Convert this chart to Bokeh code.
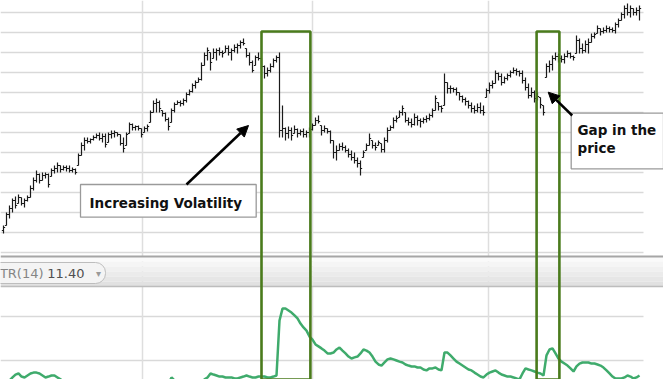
from bokeh.plotting import figure
from bokeh.models import Range1d, BoxAnnotation, Label, Arrow, NormalHead, Span, FixedTicker
from bokeh.embed import file_html
from bokeh.resources import INLINE

# ---- price bars (one per session) ----
high = [53.5, 60, 63.5, 67, 68, 69, 67.5, 67, 68.5, 73.5,
        77.5, 81, 79.5, 80, 80, 79.5, 82, 83.5, 85, 83.5,
        83.5, 83.5, 83.5, 82.5, 82, 89.5, 95, 97.5, 97.5, 97,
        98.5, 99.5, 100, 99.5, 99.5, 100, 101, 101, 100, 99,
        97.5, 100, 105, 104.5, 103.5, 103.5, 102, 103, 104, 111,
        116, 117, 116, 111, 110, 107.5, 112, 115, 116, 116,
        117, 120, 121.5, 124.5, 126, 127.5, 135, 140, 142.5, 140,
        142, 142, 142.5, 141, 143.5, 143.5, 142, 144, 144.5, 146,
        147, 142, 140, 136, 138.5, 140, 137, 133.5, 132.5, 134.5,
        137, 138.5, 140, 113.5, 102.5, 103, 102.5, 103.5, 102, 101.5,
        102, 101, 102.5, 104.5, 107.5, 108.5, 103.5, 103.5, 102, 101,
        96, 93.5, 94.5, 95, 93.5, 92, 91, 90, 87.5, 86,
        91, 94.5, 99.5, 96, 95, 96, 94.5, 97.5, 102.5, 103.5,
        107.5, 108.5, 111, 113.5, 110, 107.5, 107, 109.5, 108.5, 107,
        107.5, 108.5, 109.5, 112, 118.5, 115, 113.5, 129.5, 125, 123.5,
        122.5, 122.5, 120, 118.5, 117.5, 116, 115, 113.5, 114.5, 115,
        113.5, 122, 125, 126, 131, 130, 129.5, 128, 129.5, 131,
        132.5, 132, 131, 131, 127.5, 124.5, 122.5, 121, 120, 117.5,
        113.5, 134.5, 136, 138.5, 140, 139.5, 138.5, 139.5, 141, 140,
        138.5, 148.5, 147, 144.5, 146, 147, 149.5, 150, 153.5, 152,
        152.5, 153.5, 153, 152.5, 155, 157, 160, 163.5, 164.5, 163.5,
        162, 162.5, 163.5]
low = [49.5, 53.5, 57, 60, 62, 64.5, 63.5, 62.5, 65.5, 67.5,
       71, 75, 74.5, 76, 77, 72.5, 78, 79.5, 80, 80,
       81, 80.5, 80, 80, 79, 83.5, 88.5, 91, 94.5, 94.5,
       96, 97, 96, 95, 92.5, 95, 97, 97.5, 98, 93.5,
       90, 93.5, 99.5, 101, 101, 101, 97.5, 100, 100.5, 105,
       110, 110, 110, 108, 105.5, 101, 105, 110, 114, 113,
       113.5, 115, 118.5, 120, 122, 125, 126, 133.5, 136, 131,
       137, 136, 138.5, 137.5, 140, 138.5, 136, 140, 139.5, 142,
       143.5, 137.5, 133.5, 130, 133.5, 136, 132, 127, 128, 130,
       132.5, 135, 97.5, 97.5, 96, 97, 96, 99.5, 97.5, 98.5,
       97.5, 97.5, 97.5, 101, 103.5, 104.5, 98.5, 100, 99.5, 94.5,
       87, 86, 91, 91, 90, 87.5, 86, 84.5, 82.5, 78.5,
       87.5, 91, 93.5, 92, 91, 93.5, 90, 90, 95, 101,
       102, 105, 107.5, 108.5, 105, 103.5, 102.5, 103.5, 103.5, 102.5,
       104.5, 105, 106, 107.5, 111, 111, 110, 113.5, 119.5, 119.5,
       120, 118.5, 116, 115, 113.5, 112, 110, 109.5, 110, 109.5,
       108.5, 117.5, 119.5, 122, 124.5, 126, 123.5, 124.5, 126, 127.5,
       129.5, 128.5, 128, 124.5, 121, 117, 117.5, 115, 116, 112,
       108.5, 127.5, 130, 131, 136, 135, 135, 134.5, 137.5, 137,
       136, 139.5, 139.5, 139.5, 140, 139.5, 145, 147, 149.5, 148.5,
       149.5, 150, 150, 150, 149.5, 152.5, 156, 157, 158.5, 157.5,
       158.5, 158.5, 156]
close = [52.5, 59, 62, 66, 63.5, 67.5, 64.5, 66, 67.5, 72,
         76, 79, 76, 78.5, 79, 74, 81, 82, 83.5, 81.5,
         82.5, 82, 81, 81.5, 80, 88.5, 93.5, 96, 95.5, 96.5,
         97.5, 98.5, 97, 98, 94, 99, 99.5, 100, 99, 94.5,
         92, 99, 104, 102.5, 103, 102, 99, 102, 103, 110,
         114.5, 115, 112, 109.5, 106.5, 103, 111, 114, 115, 114.5,
         116, 119, 120.5, 123.5, 125, 126.5, 133.5, 138.5, 141, 135,
         140, 141, 140, 139.5, 142, 140, 141, 142.5, 143.5, 145,
         144.5, 138.5, 135, 131, 137.5, 137, 133, 129.5, 131, 133,
         136, 137.5, 101, 102, 99.5, 101, 98.5, 101.5, 99.5, 100.5,
         99, 100, 101.5, 103.5, 106, 105.5, 101, 102, 100.5, 96,
         90, 91, 93, 92.5, 91, 89, 87.5, 86, 84.5, 82,
         90, 93.5, 97, 93.5, 92.5, 95, 91.5, 96, 101, 102.5,
         106, 107, 110, 112, 106, 105, 104, 107.5, 106, 105.5,
         106.5, 107, 108.5, 111, 117, 113, 112, 125, 122, 122,
         121.5, 120, 118, 116.5, 115.5, 113.5, 112, 111, 112.5, 111,
         110, 121, 123.5, 124.5, 129.5, 128, 125, 127, 128.5, 130,
         131, 130.5, 129.5, 126, 122.5, 118.5, 120, 117, 118, 114,
         110, 133, 134, 137, 138, 137, 136.5, 138, 139.5, 138,
         137.5, 146, 142, 141, 144, 145, 148, 149, 152, 150.5,
         151, 152, 151.5, 151, 154, 156, 159, 162, 160, 162,
         160, 161, 162]
first_open = 51.0

# ---- ATR(14) ----
atr = [4.86, 4.95, 5.09, 5.23, 5.36, 5.41, 5.27, 5.23, 5.32, 5.41,
       5.45, 5.45, 5.41, 5.32, 5.23, 5.27, 5.32, 5.32, 5.23, 5.14,
       5.05, 5.00, 4.95, 4.91, 4.95, 5.05, 5.09, 5.05, 4.95, 4.91,
       4.86, 4.82, 4.82, 4.86, 4.91, 4.86, 4.82, 4.77, 4.77, 4.82,
       4.86, 4.91, 4.95, 4.91, 4.86, 4.82, 4.82, 4.77, 4.77, 4.86,
       4.91, 4.95, 4.95, 4.91, 4.91, 4.95, 5.23, 5.09, 5.00, 4.95,
       4.91, 4.91, 4.86, 4.86, 4.91, 4.91, 5.00, 5.14, 5.23, 5.41,
       5.36, 5.32, 5.27, 5.27, 5.23, 5.23, 5.23, 5.18, 5.18, 5.23,
       5.27, 5.32, 5.27, 5.23, 5.23, 5.27, 5.27, 5.27, 5.23, 5.23,
       5.27, 5.32, 7.82, 8.36, 8.36, 8.27, 8.18, 8.05, 7.91, 7.68,
       7.50, 7.36, 7.09, 6.95, 6.73, 6.64, 6.55, 6.45, 6.32, 6.32,
       6.36, 6.50, 6.59, 6.45, 6.32, 6.18, 6.09, 6.14, 6.18, 6.32,
       6.50, 6.45, 6.36, 6.18, 5.95, 5.82, 5.77, 5.91, 6.05, 6.09,
       6.05, 6.00, 5.95, 5.91, 5.82, 5.77, 5.73, 5.73, 5.68, 5.68,
       5.59, 5.55, 5.64, 5.64, 5.68, 5.59, 5.55, 6.36, 6.36, 6.23,
       6.09, 5.95, 5.86, 5.77, 5.68, 5.59, 5.55, 5.45, 5.36, 5.27,
       5.23, 5.36, 5.45, 5.50, 5.55, 5.45, 5.36, 5.32, 5.27, 5.27,
       5.23, 5.18, 5.14, 5.41, 5.64, 5.59, 5.55, 5.50, 5.45, 5.41,
       5.32, 6.23, 6.50, 6.55, 6.32, 6.09, 5.95, 5.86, 5.77, 5.64,
       5.50, 5.73, 5.86, 5.91, 5.91, 5.91, 5.86, 5.86, 5.82, 5.77,
       5.68, 5.55, 5.41, 5.27, 5.18, 5.18, 5.18, 5.23, 5.32, 5.27,
       5.18, 5.23, 5.32]

price_grid = [40, 50, 60, 70, 80, 90, 100, 110, 120, 130, 140, 150, 160]
atr_grid = [6, 8]
date_grid = [46.33, 103, 161.67]
grid_end = 213.33

# highlighted regions (bar index range, top price)
hl_left = [86.0, 177.7]
hl_right = [102.3, 185.3]
hl_top = 150.5

n = len(close)
idx = list(range(n))
prev = [first_open] + close[:-1]
open_ = [min(max(o, l), h) for o, l, h in zip(prev, low, high)]

p = figure(width=663, height=379, x_range=Range1d(-1, 220), y_range=Range1d(-23.5, 166),
           output_backend="svg", toolbar_location=None,
           x_axis_location=None, y_axis_location=None, min_border=0)
p.extra_y_ranges = {"atr": Range1d(5.136, 22.364)}
p.outline_line_color = None
p.background_fill_color = "white"
p.border_fill_color = "white"
p.ygrid.visible = False
p.xgrid.ticker = FixedTicker(ticks=date_grid)
p.xgrid.grid_line_color = "#dedede"
p.xgrid.grid_line_width = 1.5

gc = "#d9d9d9"
p.segment(x0=[-1] * len(price_grid), y0=price_grid, x1=[grid_end] * len(price_grid), y1=price_grid,
          line_color=gc, line_width=1.5, level="underlay")
p.segment(x0=[-1] * len(atr_grid), y0=atr_grid, x1=[grid_end] * len(atr_grid), y1=atr_grid,
          line_color=gc, line_width=1.5, level="underlay", y_range_name="atr")

# OHLC bars
bc = "#1a1a1a"
p.segment(x0=idx, y0=low, x1=idx, y1=high, line_color=bc, line_width=1.2)
p.segment(x0=[i - 0.55 for i in idx], y0=open_, x1=idx, y1=open_, line_color=bc, line_width=1.2)
p.segment(x0=idx, y0=close, x1=[i + 0.55 for i in idx], y1=close, line_color=bc, line_width=1.2)

# ATR line
p.line(idx, atr, y_range_name="atr", line_color="#3fab6c", line_width=2.5)

# indicator header strip
shades = ["#fafafa", "#f5f5f5", "#f0f0f0", "#ebebeb", "#e6e6e6", "#e1e1e1"]
for k, c in enumerate(shades):
    p.add_layout(BoxAnnotation(top=38 - 2.5 * k, bottom=38 - 2.5 * (k + 1), fill_color=c,
                               fill_alpha=1, line_color=None))
p.add_layout(Span(location=38, dimension="width", line_color="#a6a6a6", line_width=2))
p.add_layout(Span(location=23, dimension="width", line_color="#bdbdbd", line_width=1.5))
p.add_layout(BoxAnnotation(left=-6, right=34, top=35, bottom=24.5, fill_color="#f4f4f4",
                           fill_alpha=1, line_color="#bdbdbd", line_alpha=1, line_width=1,
                           border_radius=10))
p.add_layout(Label(x=-1.2, y=29.7, text="TR(14)", text_font="DejaVu Sans", text_font_size="13px",
                   text_color="#858585", text_baseline="middle"))
p.add_layout(Label(x=14.6, y=29.7, text="11.40", text_font="DejaVu Sans", text_font_size="13px",
                   text_color="#505050", text_baseline="middle"))
p.add_layout(Label(x=30.8, y=29.7, text="▾", text_font="DejaVu Sans", text_font_size="10px",
                   text_color="#9a9a9a", text_baseline="middle"))

# highlight rectangles
for l, r in zip(hl_left, hl_right):
    p.add_layout(BoxAnnotation(left=l, right=r, top=hl_top, fill_alpha=0,
                               line_color="#4a7b1c", line_alpha=1, line_width=2.6))

# call-outs
p.add_layout(BoxAnnotation(left=25.67, right=84.23, top=74, bottom=57.67, fill_color="white",
                           fill_alpha=1, line_color="#9a9a9a", line_alpha=1, line_width=1.3))
p.add_layout(Label(x=28.67, y=65, text="Increasing Volatility", text_font="DejaVu Sans",
                   text_font_style="bold", text_font_size="13.5px", text_color="#111111",
                   text_baseline="alphabetic"))
p.add_layout(BoxAnnotation(left=189.23, top=109.65, bottom=81.85, fill_color="white",
                           fill_alpha=1, line_color="#9a9a9a", line_alpha=1, line_width=1.3))
p.add_layout(Label(x=191.33, y=101.5, text="Gap in the", text_font="DejaVu Sans",
                   text_font_style="bold", text_font_size="13.5px", text_color="#111111",
                   text_baseline="alphabetic"))
p.add_layout(Label(x=191.33, y=92.2, text="price", text_font="DejaVu Sans",
                   text_font_style="bold", text_font_size="13.5px", text_color="#111111",
                   text_baseline="alphabetic"))

p.add_layout(Arrow(x_start=61, y_start=74, x_end=81.67, y_end=103.5, line_width=2.5,
                   line_color="black",
                   end=NormalHead(size=11, fill_color="black", line_color="black")))
p.add_layout(Arrow(x_start=189.57, y_start=108.5, x_end=181.57, y_end=120.17, line_width=2.5,
                   line_color="black",
                   end=NormalHead(size=11, fill_color="black", line_color="black")))

open("out.html", "w").write(file_html(p, INLINE))
